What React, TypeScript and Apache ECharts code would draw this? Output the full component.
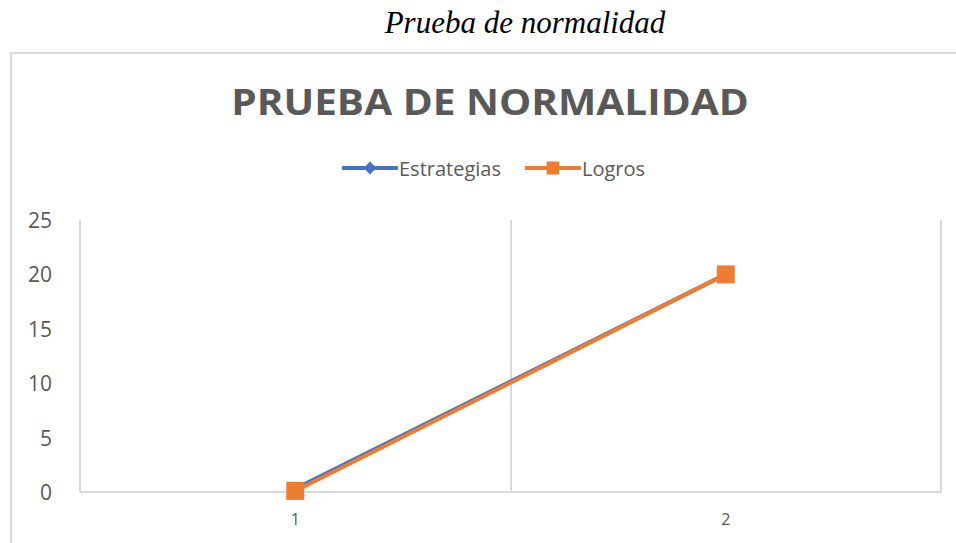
import React, { useEffect, useRef } from "react";
import * as echarts from "echarts";

const categories = ["1", "2"];
const estrategias = [0.3, 20];
const logros = [0.1, 20];
const seriesNames = ["Estrategias", "Logros"];
const caption = "Prueba de normalidad";
const chartTitle = "PRUEBA DE NORMALIDAD";

export default function App() {
  const ref = useRef<HTMLDivElement>(null);
  useEffect(() => {
    if (!ref.current) return;
    const chart = echarts.init(ref.current, null, { renderer: "svg" });
    chart.setOption({
      animation: false,
      backgroundColor: "#ffffff",
      graphic: [
        {
          type: "rect",
          z: -10,
          shape: { x: 11, y: 53, width: 1200, height: 800 },
          style: { fill: "none", stroke: "#d9d9d9", lineWidth: 2 },
        },
        {
          type: "text",
          x: 525,
          y: 22,
          style: {
            text: caption,
            font: "italic 31px 'Liberation Serif', 'Times New Roman', serif",
            fill: "#000000",
            textAlign: "center",
            textVerticalAlign: "middle",
          },
        },
        {
          type: "text",
          x: 490,
          y: 101,
          scaleX: 1.16,
          style: {
            text: chartTitle,
            font: "bold 35px 'Open Sans', sans-serif",
            fill: "#595959",
            textAlign: "center",
            textVerticalAlign: "middle",
          },
        },
      ],
      legend: {
        left: 335,
        top: 153,
        itemWidth: 56,
        itemHeight: 16,
        itemGap: 22,
        lineStyle: { width: 4 },
        textStyle: {
          color: "#595959",
          fontSize: 20,
          fontFamily: "'Open Sans', sans-serif",
          padding: [0, 0, 0, -4],
        },
        data: seriesNames,
      },
      grid: { left: 80, right: 15, top: 220, bottom: 51 },
      xAxis: {
        type: "category",
        data: categories,
        boundaryGap: true,
        axisLine: { show: true, lineStyle: { color: "#d9d9d9", width: 2 } },
        axisTick: { show: false },
        splitLine: { show: true, lineStyle: { color: "#d9d9d9", width: 2 } },
        axisLabel: {
          color: "#595959",
          fontSize: 16,
          fontFamily: "'Open Sans', sans-serif",
          margin: 19,
        },
      },
      yAxis: {
        type: "value",
        min: 0,
        max: 25,
        interval: 5,
        axisLine: { show: false },
        axisTick: { show: false },
        splitLine: { show: false },
        axisLabel: {
          color: "#595959",
          fontSize: 21,
          fontFamily: "'Open Sans', sans-serif",
          margin: 28,
        },
      },
      series: [
        {
          name: seriesNames[0],
          type: "line",
          data: estrategias,
          symbol: "diamond",
          symbolSize: 14,
          itemStyle: { color: "#4472C4" },
          lineStyle: { color: "#4472C4", width: 4 },
        },
        {
          name: seriesNames[1],
          type: "line",
          data: logros,
          symbol: "rect",
          symbolSize: 18,
          itemStyle: { color: "#ED7D31" },
          lineStyle: { color: "#ED7D31", width: 4 },
        },
      ],
    });
    return () => chart.dispose();
  }, []);
  return (
    <div
      ref={ref}
      style={{ position: "absolute", left: 0, top: 0, width: 956, height: 543 }}
    />
  );
}
